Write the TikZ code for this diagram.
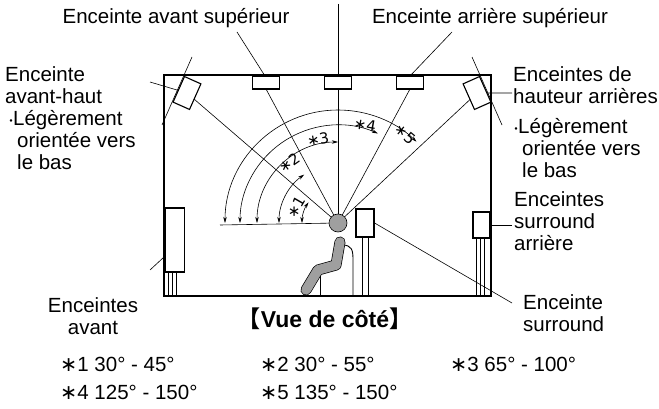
\documentclass[tikz,border=0pt]{standalone}
\usepackage{fontspec}
\setmainfont{Liberation Sans}
\newfontfamily\djv{DejaVu Sans}
\newfontfamily\cjk{Noto Sans CJK JP}
\usetikzlibrary{arrows.meta}
\begin{document}
\begin{tikzpicture}[x=1pt,y=-1pt,
  lbl/.style={font=\fontsize{20.5}{22}\selectfont,inner sep=0pt,align=left},
  thin/.style={line width=0.6pt},
  box/.style={draw,line width=1.1pt,fill=white},
  arr/.style={thin,{Stealth[length=6pt,width=3.5pt]}-{Stealth[length=6pt,width=3.5pt]}}]
\useasboundingbox (0,0) rectangle (659,409);
\coordinate (H) at (338,223);
% leader lines
\coordinate (t1) at (265,76); \coordinate (t2) at (338,76); \coordinate (t3) at (410,76);
\draw[thin] (237,32) -- (t1);
\draw[thin] (338,4) -- (t2);
\draw[thin] (452,32) -- (t3);
% tilt lines
\draw[thin] (192,57) -- (162,125);
\draw[thin] (472,57) -- (502,125);
% room
\draw[line width=1.8pt] (164,75) rectangle (491,296);
% lines from head
\foreach \p in {(187,93),(266,89),(338,89),(410,89),(477,93)} \draw[thin] (H) -- \p;
\draw[thin] (220,225) -- (H);
% arcs
\draw[arr] (H) ++(180:113) arc (180:314:113);
\draw[arr] (H) ++(180:98) arc (180:294:98);
\draw[arr] (H) ++(180:81) arc (180:270:81);
\draw[arr] (H) ++(180:59) arc (180:235:59);
\draw[arr] (H) ++(180:36) arc (180:215:36);
\node[lbl,rotate=60] (s1) at (296,207) {\djv\fontsize{15}{15}\selectfont ∗1};
\node[lbl,rotate=35] (s2) at (289,163) {\djv\fontsize{15}{15}\selectfont ∗2};
\node[lbl,rotate=10] (s3) at (318,139) {\djv\fontsize{15}{15}\selectfont ∗3};
\node[lbl,rotate=-10] (s4) at (365,125) {\djv\fontsize{15}{15}\selectfont ∗4};
\node[lbl,rotate=-40] (s5) at (405,134) {\djv\fontsize{15}{15}\selectfont ∗5};
% speakers
\node[box,minimum width=27pt,minimum height=13pt,inner sep=0] (sp1) at (266,82.5) {};
\node[box,minimum width=27pt,minimum height=13pt,inner sep=0] (sp2) at (338,82.5) {};
\node[box,minimum width=27pt,minimum height=13pt,inner sep=0] (sp3) at (410,82.5) {};
\node[box,minimum width=18pt,minimum height=28pt,inner sep=0,rotate=-24] (fh) at (187,93) {};
\node[box,minimum width=18pt,minimum height=28pt,inner sep=0,rotate=24] (rh) at (477,93) {};
% front speaker
\node[box,minimum width=19pt,minimum height=64pt,inner sep=0] (fs) at (175,240) {};
\foreach \x in {168,172,176} \draw[thin] (\x,272) -- (\x,296);
% rear surround
\node[box,minimum width=17pt,minimum height=26pt,inner sep=0] (rs) at (481.5,225) {};
\foreach \x in {476,480,484} \draw[thin] (\x,238) -- (\x,296);
% surround
\node[box,minimum width=18pt,minimum height=28pt,inner sep=0] (ss) at (365,223) {};
\draw[thin] (362,237) -- (362,296); \draw[thin] (368,237) -- (368,296);
% chair
\draw[line width=0.9pt] (320,268) -- (320,296);
\draw[line width=0.9pt] (342,245) .. controls (352,245) and (353,250) .. (353,260) -- (353,296);
% person
\fill[gray!75,draw=black,line width=0.6pt] (H) circle (9);
\draw[line width=11pt,line cap=round,line join=round,black] (340,242) -- (336,265) -- (318,270) -- (306,290);
\draw[line width=9.6pt,line cap=round,line join=round,gray!75] (340,242) -- (336,265) -- (318,270) -- (306,290);
% labels
\node[lbl] (l1) at (176,18) {Enceinte avant supérieur};
\node[lbl] (l2) at (490,18) {Enceinte arrière supérieur};
\node[lbl,anchor=north west] (l3) at (5,66) {Enceinte\\avant-haut\\{\cjk\fontsize{12}{12}\selectfont ・}\hspace{-4pt}Légèrement\\\hspace{12pt}orientée vers\\\hspace{12pt}le bas};
\draw[thin] (150,82) -- (fh);
\node[lbl,anchor=north west] (l4) at (513,66) {Enceintes de\\hauteur arrières};
\node[lbl,anchor=north west] (l5) at (510,118) {{\cjk\fontsize{12}{12}\selectfont ・}\hspace{-4pt}Légèrement\\\hspace{12pt}orientée vers\\\hspace{12pt}le bas};
\draw[thin] (512,93) -- (rh);
\node[lbl,anchor=north west] (l6) at (514,191) {Enceintes\\surround\\arrière};
\draw[thin] (512,225) -- (rs.east);
\node[lbl,align=center] (l7) at (93,316) {Enceintes\\avant};
\draw[thin] (150,270) -- (164,257);
\node[lbl,anchor=north west] (l8) at (523,294) {Enceinte\\surround};
\draw[thin] (512,303) -- (ss.east);
\node[lbl,font=\bfseries\fontsize{23}{24}\selectfont] (vt) at (325,319) {{\cjk【}Vue de côté{\cjk】}};
\node[lbl,anchor=west] (f1) at (60,364) {{\djv ∗}1 30° - 45°};
\node[lbl,anchor=west] (f2) at (260,364) {{\djv ∗}2 30° - 55°};
\node[lbl,anchor=west] (f3) at (450,364) {{\djv ∗}3 65° - 100°};
\node[lbl,anchor=west] (f4) at (60,392) {{\djv ∗}4 125° - 150°};
\node[lbl,anchor=west] (f5) at (260,392) {{\djv ∗}5 135° - 150°};
\end{tikzpicture}
\end{document}
